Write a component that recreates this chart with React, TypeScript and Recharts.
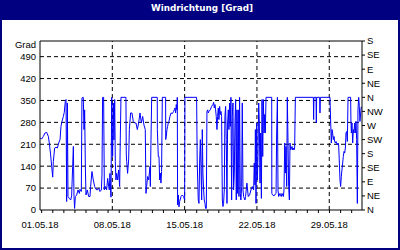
import React from 'react';
import { LineChart, Line, XAxis, YAxis, ReferenceLine } from 'recharts';

// [day offset since 01.05.18, direction in degrees]
const week1: [number, number][] = [
  [0.0, 230], [0.16, 227], [0.32, 235], [0.48, 246], [0.65, 248], [0.81, 235], [0.9, 214], [1.03, 176],
  [1.13, 139], [1.23, 105], [1.29, 155], [1.42, 198], [1.55, 201], [1.68, 198], [1.81, 214], [1.94, 225],
  [2.03, 267], [2.13, 283], [2.26, 299], [2.35, 312], [2.45, 347], [2.52, 353], [2.58, 27], [2.65, 342],
  [2.71, 43], [2.84, 37], [2.97, 32], [3.06, 45], [3.16, 139], [3.23, 203], [3.29, 43], [3.35, 5],
  [3.42, 43], [3.55, 48], [3.68, 64], [3.81, 53], [3.87, 66], [4.0, 59], [4.06, 358], [4.19, 360],
  [4.26, 257], [4.32, 320], [4.39, 139], [4.45, 48], [4.58, 64], [4.71, 43], [4.84, 43], [4.9, 75],
  [5.03, 123], [5.16, 96], [5.29, 75], [5.42, 66], [5.55, 64], [5.68, 70], [5.81, 59], [5.94, 64],
  [6.0, 112], [6.06, 360], [6.16, 360], [6.23, 64], [6.32, 75], [6.45, 64], [6.55, 101], [6.65, 75],
  [6.71, 64], [6.77, 117], [6.87, 41], [6.94, 360],
];
const week2: [number, number][] = [
  [7.03, 171], [7.1, 342], [7.16, 224], [7.23, 353], [7.29, 155], [7.35, 96], [7.42, 117], [7.52, 96],
  [7.61, 128], [7.71, 75], [7.77, 224], [7.84, 360], [8.32, 360], [8.35, 182], [8.39, 155], [8.48, 117],
  [8.58, 160], [8.65, 257], [8.77, 310], [8.9, 310], [9.03, 283], [9.16, 278], [9.29, 278], [9.42, 257],
  [9.55, 278], [9.68, 310], [9.81, 278], [9.94, 299], [10.06, 272], [10.19, 257], [10.26, 53], [10.32, 75],
  [10.42, 107], [10.52, 96], [10.65, 139], [10.68, 75], [10.74, 214], [10.81, 360], [11.35, 360], [11.36, 257],
  [11.45, 171], [11.52, 171], [11.58, 96], [11.64, 118], [11.71, 86], [11.77, 123], [11.84, 360], [12.16, 360],
  [12.17, 225], [12.22, 235], [12.29, 257], [12.35, 267], [12.42, 278], [12.48, 283], [12.58, 299], [12.68, 310],
  [12.81, 308], [12.93, 315], [13.0, 320], [13.06, 326], [13.13, 310], [13.19, 337], [13.26, 320], [13.29, 360],
  [13.32, 16], [13.39, 48], [13.45, 10], [13.52, 27], [13.65, 43], [13.77, 48], [13.9, 43], [14.0, 32],
];
const week3: [number, number][] = [
  [14.03, 360], [15.16, 360], [15.22, 150], [15.32, 32], [15.39, 21], [15.45, 150], [15.52, 225], [15.58, 139],
  [15.65, 32], [15.71, 257], [15.77, 118], [15.84, 64], [15.9, 32], [15.97, 21], [16.03, 5], [16.1, 5],
  [16.16, 315], [16.23, 320], [16.29, 310], [16.35, 315], [16.48, 320], [16.55, 326], [16.61, 331], [16.74, 337],
  [16.81, 344], [16.87, 326], [16.94, 337], [17.0, 320], [17.06, 299], [17.13, 257], [17.19, 299], [17.26, 326],
  [17.32, 289], [17.39, 331], [17.45, 305], [17.52, 315], [17.58, 299], [17.65, 32], [17.71, 11], [17.77, 21],
  [17.84, 64], [17.9, 299], [17.97, 331], [18.03, 225], [18.1, 21], [18.16, 278], [18.23, 320], [18.29, 257],
  [18.35, 342], [18.42, 267], [18.48, 360], [18.55, 32], [18.61, 299], [18.68, 342], [18.74, 64], [18.81, 118],
  [18.87, 278], [18.94, 353], [19.0, 32], [19.06, 320], [19.13, 53], [19.19, 320], [19.26, 43], [19.32, 360],
  [19.39, 53], [19.45, 32], [19.52, 75], [19.58, 342], [19.65, 64], [19.71, 43], [19.84, 32], [19.9, 43],
  [20.03, 86], [20.16, 43], [20.29, 48], [20.42, 64], [20.55, 75], [20.68, 64], [20.74, 150], [20.81, 80],
  [20.85, 257], [20.91, 21],
];
const week4: [number, number][] = [
  [20.98, 278], [21.04, 96], [21.1, 171], [21.17, 342], [21.23, 278], [21.3, 86], [21.36, 246], [21.43, 37],
  [21.49, 353], [21.56, 171], [21.62, 353], [21.69, 246], [21.75, 305], [21.81, 246], [21.88, 360], [22.43, 360],
  [22.44, 53], [22.52, 48], [22.65, 45], [22.78, 51], [22.85, 53], [22.91, 246], [22.98, 360], [23.04, 64],
  [23.1, 43], [23.17, 48], [23.23, 53], [23.3, 45], [23.36, 43], [23.43, 53], [23.49, 48], [23.56, 43],
  [23.62, 64], [23.69, 214], [23.75, 118], [23.81, 203], [23.88, 75], [23.94, 360], [24.01, 214], [24.07, 75],
  [24.14, 32], [24.2, 214], [24.27, 192], [24.33, 198], [24.4, 203], [24.46, 192], [24.52, 198], [24.59, 192],
  [24.65, 198], [24.72, 360], [26.46, 360], [26.49, 289], [26.52, 360], [26.72, 360], [26.75, 278], [26.78, 360],
  [27.07, 360], [27.1, 310], [27.14, 360],
];
const week5: [number, number][] = [
  [28.07, 360], [28.14, 278], [28.2, 214], [28.27, 257], [28.33, 246], [28.39, 225], [28.46, 235], [28.52, 219],
  [28.59, 214], [28.65, 219], [28.72, 214], [28.78, 208], [28.85, 214], [28.91, 208], [28.98, 150], [29.04, 96],
  [29.1, 75], [29.17, 107], [29.23, 128], [29.3, 150], [29.36, 171], [29.43, 187], [29.49, 182], [29.56, 198],
  [29.62, 246], [29.69, 251], [29.75, 219], [29.82, 360], [30.07, 360], [30.1, 283], [30.14, 246], [30.2, 278],
  [30.27, 214], [30.33, 257], [30.39, 246], [30.46, 278], [30.52, 246], [30.59, 283], [30.65, 225], [30.72, 21],
  [30.78, 320], [30.85, 360], [30.91, 331], [30.97, 283], [31.1, 330],
];

const gradTicks = [0, 70, 140, 210, 280, 350, 420, 490];
const gridValues = [70, 140, 210, 280, 350, 420, 490];
const compassTicks = [0, 45, 90, 135, 180, 225, 270, 315, 360, 405, 450, 495, 540];
const compassLabels = ['N', 'NE', 'E', 'SE', 'S', 'SW', 'W', 'NW', 'N', 'NE', 'E', 'SE', 'S'];
const dateTicks = [0, 7, 14, 21, 28];
const dateLabels = ['01.05.18', '08.05.18', '15.05.18', '22.05.18', '29.05.18'];
const minorTicks = [
  0.16, 1.24, 2.31, 3.38, 4.45, 5.52, 6.59, 7.67, 8.74, 9.81, 10.88, 11.95, 13.02, 14.09, 15.17,
  16.24, 17.31, 18.38, 19.45, 20.52, 21.6, 22.67, 23.74, 24.81, 25.88, 26.95, 28.02, 29.1, 30.17,
];

const data = [...week1, ...week2, ...week3, ...week4, ...week5].map(([t, dir]) => ({ t, dir }));
const allXTicks = [...dateTicks, ...minorTicks].sort((a, b) => a - b);

const FONT = '"Liberation Sans", Arial, sans-serif';

const XTick = (props: any) => {
  const { x, y, payload } = props;
  const idx = dateTicks.indexOf(payload.value);
  if (idx >= 0) {
    return (
      <text x={x} y={y + 18} textAnchor="middle" fill="#000" fontSize={9.5} fontFamily={FONT}>
        {dateLabels[idx]}
      </text>
    );
  }
  return <line x1={x} x2={x} y1={y} y2={y + 3} stroke="#000" strokeWidth={1} />;
};

export default function App() {
  return (
    <div style={{ position: 'absolute', left: 0, top: 0, width: 400, height: 250, background: '#fff', overflow: 'hidden' }}>
      <LineChart width={400} height={250} data={data} margin={{ top: 41, right: 0, left: 0, bottom: 0 }}>
        <XAxis
          dataKey="t"
          type="number"
          domain={[0, 31.17]}
          ticks={allXTicks}
          interval={0}
          tick={<XTick />}
          tickLine={false}
          tickSize={0}
          tickMargin={0}
          height={40}
          axisLine={{ stroke: '#000' }}
          allowDataOverflow
        />
        <YAxis
          yAxisId="left"
          orientation="left"
          width={40}
          domain={[0, 540]}
          ticks={gradTicks}
          interval={0}
          tickLine={false}
          tickSize={0}
          tickMargin={4}
          axisLine={{ stroke: '#000' }}
          tick={{ fill: '#000', fontSize: 9.5, fontFamily: FONT }}
          allowDataOverflow
        />
        <YAxis
          yAxisId="right"
          orientation="right"
          width={38}
          domain={[0, 540]}
          ticks={compassTicks}
          interval={0}
          tickSize={3}
          tickMargin={2}
          tickLine={{ stroke: '#000' }}
          axisLine={{ stroke: '#000' }}
          tick={{ fill: '#000', fontSize: 9.5, fontFamily: FONT }}
          tickFormatter={(v: number) => compassLabels[compassTicks.indexOf(v)]}
          allowDataOverflow
        />
        {gridValues.map((v) => (
          <ReferenceLine key={'h' + v} yAxisId="left" y={v} stroke="#000" strokeDasharray="4 3" />
        ))}
        {dateTicks.slice(1).map((v) => (
          <ReferenceLine key={'v' + v} yAxisId="left" x={v} stroke="#000" strokeDasharray="4 3" />
        ))}
        <ReferenceLine yAxisId="left" y={540} stroke="#000" />
        <Line
          yAxisId="left"
          type="linear"
          dataKey="dir"
          stroke="#0000ff"
          strokeWidth={1}
          dot={false}
          isAnimationActive={false}
        />
      </LineChart>
      <div
        style={{
          position: 'absolute', left: 0, top: 0, width: 400, height: 20, background: '#000080',
          color: '#fff', fontFamily: '"DejaVu Sans", Verdana, sans-serif', fontWeight: 'bold', fontSize: 8.8,
          lineHeight: '17px', textAlign: 'center', paddingLeft: 4, boxSizing: 'border-box',
        }}
      >
        Windrichtung [Grad]
      </div>
      <div
        style={{
          position: 'absolute', left: 0, top: 40, width: 36, textAlign: 'right', fontFamily: FONT,
          fontSize: 9.5, lineHeight: '10px', color: '#000',
        }}
      >
        Grad
      </div>
      <div
        style={{
          position: 'absolute', left: 0, top: 0, width: 400, height: 250, border: '2px solid #000080',
          boxSizing: 'border-box', pointerEvents: 'none',
        }}
      />
    </div>
  );
}
